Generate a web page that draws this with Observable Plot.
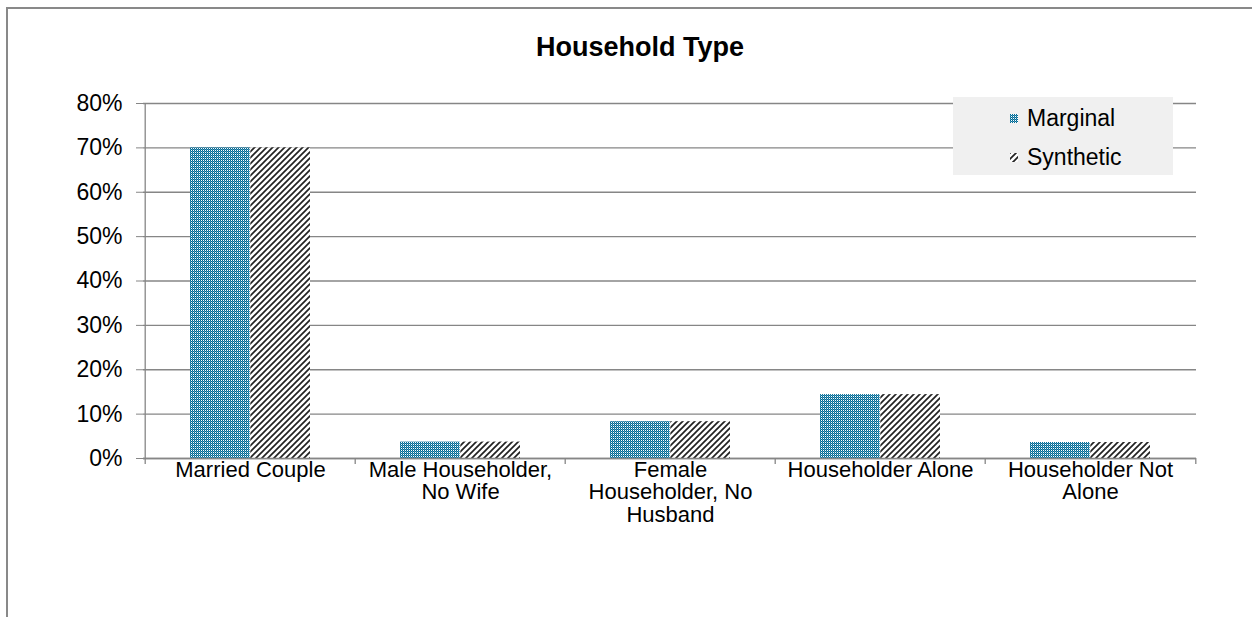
<!DOCTYPE html>
<html><head><meta charset="utf-8">
<script src="https://cdn.jsdelivr.net/npm/d3@7"></script>
<script src="https://cdn.jsdelivr.net/npm/@observablehq/plot@0.6"></script>
<style>
body{margin:0;overflow:hidden;background:#fff;font-family:"Liberation Sans",Arial,sans-serif;}
#wrap{position:relative;width:1252px;height:617px;overflow:hidden;}
#frame{position:absolute;left:6px;top:7px;width:1400px;height:800px;border-left:2px solid #898989;border-top:2px solid #898989;box-sizing:border-box;}
#chart{position:absolute;left:0;top:0;}
#title{position:absolute;left:0;width:1280px;top:32px;text-align:center;font-weight:bold;font-size:27px;color:#000;}
#legend{position:absolute;left:953px;top:97px;width:220px;height:78px;background:#f0f0f0;}
.li{position:absolute;left:57px;font-size:23px;color:#000;display:flex;align-items:center;white-space:nowrap;}
.li svg{margin-right:9px;}
</style>
</head><body>
<div id="wrap">
  <div id="frame"></div>
  <div id="chart"></div>
  <div id="title">Household Type</div>
  <div id="legend">
    <div class="li" style="top:8px"><svg width="8" height="9"><rect width="8" height="9" fill="url(#checker)"/></svg>Marginal</div>
    <div class="li" style="top:47px"><svg width="8" height="9"><rect width="8" height="9" fill="url(#diag)"/></svg>Synthetic</div>
  </div>
</div>
<script>
const categories = ["Married Couple","Male Householder, No Wife","Female Householder, No Husband","Householder Alone","Householder Not Alone"];
const tickLabels = ["Married Couple","Male Householder,\nNo Wife","Female\nHouseholder, No\nHusband","Householder Alone","Householder Not\nAlone"];
const marginal = [0.700,0.037,0.083,0.144,0.036];
const synthetic = [0.700,0.037,0.083,0.144,0.036];
const yTicks = [0,0.1,0.2,0.3,0.4,0.5,0.6,0.7,0.8];

const data = categories.map((c,i)=>({category:c, marginal:marginal[i], synthetic:synthetic[i]}));
const W = 1252, H = 617, mL = 143, mR = 56, mT = 103, mB = 159;
const bw = (W - mL - mR) / categories.length;
const barW = 60.3;
const gap = (bw - 2*barW)/2;
const grid = "#868686";

const plot = Plot.plot({
  width: W, height: H,
  marginLeft: mL, marginRight: mR, marginTop: mT, marginBottom: mB,
  style: {fontFamily: "'Liberation Sans', Arial, sans-serif", fontSize: "23px", color: "#000", background: "transparent"},
  x: {domain: categories, padding: 0, label: null},
  y: {domain: [0, 0.8], label: null},
  marks: [
    Plot.gridY(yTicks, {stroke: grid, strokeOpacity: 1, strokeWidth: 1.3}),
    Plot.barY(data, {x: "category", y: "marginal", fill: "url(#checker)", insetLeft: gap, insetRight: bw - gap - barW}),
    Plot.barY(data, {x: "category", y: "synthetic", fill: "url(#diag)", insetLeft: gap + barW, insetRight: gap}),
    Plot.ruleY([0], {stroke: grid, strokeWidth: 1.3}),
    Plot.ruleX([categories[0]], {dx: -bw/2, y1: 0, y2: 0.8, stroke: grid, strokeWidth: 1.3}),
    Plot.ruleX(categories, {dx: -bw/2, y1: 0, y2: -0.0135, stroke: grid, strokeWidth: 1.3}),
    Plot.ruleX([categories[categories.length-1]], {dx: bw/2, y1: 0, y2: -0.0135, stroke: grid, strokeWidth: 1.3}),
    Plot.axisY(yTicks, {tickFormat: d3.format(".0%"), tickSize: 7, tickPadding: 14, stroke: grid, fill: "#000", label: null, fontSize: 23}),
    Plot.axisX({tickSize: 0, tickPadding: 2, tickFormat: (d) => tickLabels[categories.indexOf(d)], label: null, fontSize: 22, lineHeight: 1.03, fill: "#000"})
  ]
});
document.getElementById("chart").appendChild(plot);

const svg = d3.select(plot);
const defs = svg.insert("defs", ":first-child");
const chk = defs.append("pattern").attr("id","checker").attr("patternUnits","userSpaceOnUse").attr("width",2).attr("height",2);
chk.append("rect").attr("width",2).attr("height",2).attr("fill","#006994");
chk.append("rect").attr("x",1).attr("width",1).attr("height",1).attr("fill","#ffffff");
chk.append("rect").attr("y",1).attr("width",1).attr("height",1).attr("fill","#4c98b8");
const dg = defs.append("pattern").attr("id","diag").attr("patternUnits","userSpaceOnUse").attr("width",6).attr("height",6);
dg.append("rect").attr("width",6).attr("height",6).attr("fill","#ffffff");
dg.append("path").attr("d","M-1,1 L1,-1 M0,6 L6,0 M5,7 L7,5").attr("stroke","#222").attr("stroke-width",1.7);
</script>
</body></html>
